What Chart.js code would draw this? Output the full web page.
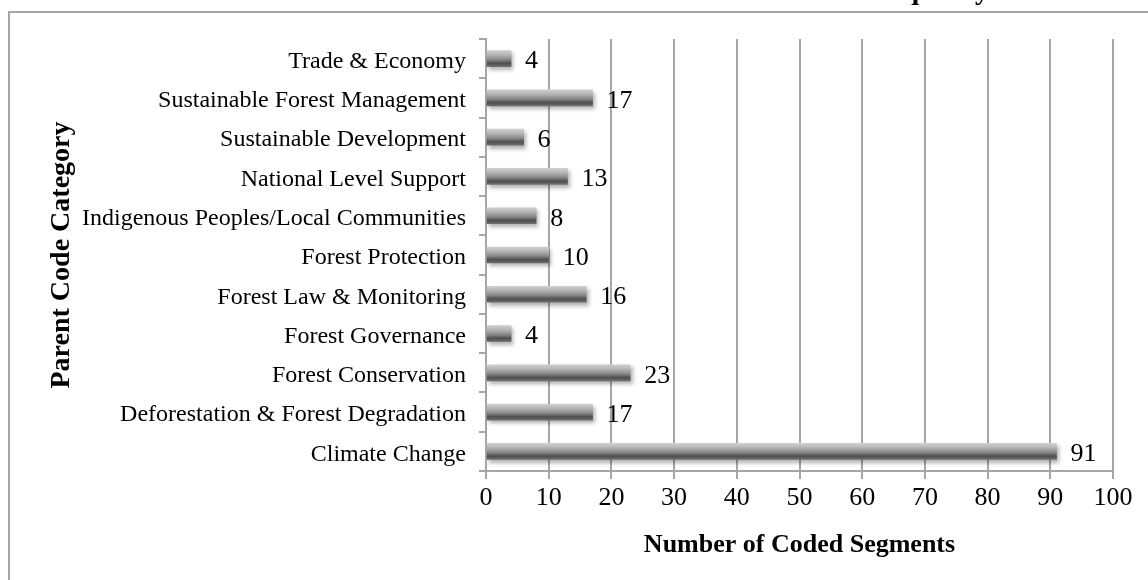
<!DOCTYPE html>
<html>
<head>
<meta charset="utf-8">
<script src="https://cdn.jsdelivr.net/npm/chart.js@4/dist/chart.umd.min.js"></script>
<style>
  html, body { margin: 0; padding: 0; background: #ffffff; }
  #wrap { width: 1148px; height: 580px; position: relative; }
</style>
</head>
<body>
<div id="wrap"><canvas id="c" width="1148" height="580"></canvas></div>
<script>
// Parent code categories, listed top to bottom
const categories = [
  'Trade & Economy',
  'Sustainable Forest Management',
  'Sustainable Development',
  'National Level Support',
  'Indigenous Peoples/Local Communities',
  'Forest Protection',
  'Forest Law & Monitoring',
  'Forest Governance',
  'Forest Conservation',
  'Deforestation & Forest Degradation',
  'Climate Change'
];
// Number of coded segments per category
const segmentCounts = [4, 17, 6, 13, 8, 10, 16, 4, 23, 17, 91];
// Value axis ticks
const xTicks = [0, 10, 20, 30, 40, 50, 60, 70, 80, 90, 100];

const SERIF = '"Liberation Serif", "Times New Roman", serif';
const GRID = '#a6a6a6';
const BAR_H = 16;
const PAD_LEFT = 41;

// Frame around the chart plus the clipped heading above it
const framePlugin = {
  id: 'frame',
  beforeDraw(chart) {
    const ctx = chart.ctx;
    ctx.save();
    ctx.fillStyle = '#ffffff';
    ctx.fillRect(0, 0, chart.width, chart.height);
    ctx.strokeStyle = GRID;
    ctx.lineWidth = 2;
    ctx.strokeRect(9, 12, 1400, 800);
    ctx.font = 'bold 28px ' + SERIF;
    ctx.fillStyle = '#000000';
    ctx.textBaseline = 'alphabetic';
    ctx.textAlign = 'left';
    ctx.fillText('Frequency', 862, -1);
    ctx.restore();
  }
};

// Shaded, shadowed bars
const shadowPlugin = {
  id: 'barShadow',
  beforeDatasetsDraw(chart) {
    const ctx = chart.ctx;
    ctx.save();
    ctx.shadowColor = 'rgba(0,0,0,0.3)';
    ctx.shadowBlur = 4;
    ctx.shadowOffsetX = 2;
    ctx.shadowOffsetY = 3;
  },
  afterDatasetsDraw(chart) {
    chart.ctx.restore();
  }
};

// Value labels at the end of each bar
const valueLabels = {
  id: 'valueLabels',
  afterDatasetsDraw(chart) {
    const ctx = chart.ctx;
    const meta = chart.getDatasetMeta(0);
    ctx.save();
    ctx.font = '26px ' + SERIF;
    ctx.fillStyle = '#000000';
    ctx.textAlign = 'left';
    ctx.textBaseline = 'middle';
    meta.data.forEach((bar, i) => {
      ctx.fillText(String(segmentCounts[i]), bar.x + 14, bar.y + 3);
    });
    ctx.restore();
  }
};

function barGradient(context) {
  const chart = context.chart;
  const yScale = chart.scales && chart.scales.y;
  if (!chart.chartArea || !yScale || context.dataIndex === undefined) return '#808080';
  const cy = yScale.getPixelForValue(context.dataIndex);
  if (!isFinite(cy)) return '#808080';
  const top = cy - BAR_H / 2;
  const g = chart.ctx.createLinearGradient(0, top, 0, top + BAR_H);
  g.addColorStop(0, '#cfcfcf');
  g.addColorStop(0.3, '#b0b0b0');
  g.addColorStop(0.55, '#8a8a8a');
  g.addColorStop(0.8, '#4e4e4e');
  g.addColorStop(1, '#6e6e6e');
  return g;
}

new Chart(document.getElementById('c'), {
  type: 'bar',
  data: {
    labels: categories,
    datasets: [{
      data: segmentCounts,
      backgroundColor: barGradient,
      borderWidth: 0,
      barThickness: BAR_H
    }]
  },
  plugins: [framePlugin, shadowPlugin, valueLabels],
  options: {
    indexAxis: 'y',
    responsive: false,
    animation: false,
    layout: { padding: { left: PAD_LEFT, right: 35, top: 39, bottom: 15 } },
    plugins: { legend: { display: false }, tooltip: { enabled: false } },
    scales: {
      x: {
        min: 0,
        max: 100,
        afterBuildTicks(scale) { scale.ticks = xTicks.map(v => ({ value: v })); },
        afterFit(scale) { scale.height = 94; },
        border: { color: GRID, width: 2 },
        grid: { color: GRID, lineWidth: 2, tickLength: 8, drawTicks: true },
        ticks: { color: '#000000', padding: 4, font: { family: SERIF, size: 26 } },
        title: {
          display: true,
          text: 'Number of Coded Segments',
          color: '#000000',
          padding: { top: 4, bottom: 4 },
          font: { family: SERIF, size: 26, weight: 'bold' }
        }
      },
      y: {
        afterFit(scale) { scale.width = 486 - PAD_LEFT; },
        border: { color: GRID, width: 2 },
        grid: { drawOnChartArea: false, offset: true, color: GRID, lineWidth: 2, tickLength: 7 },
        ticks: { color: '#000000', padding: 13, labelOffset: 3, font: { family: SERIF, size: 24 } },
        title: {
          display: true,
          text: 'Parent Code Category',
          color: '#000000',
          padding: { top: 4, bottom: 4 },
          font: { family: SERIF, size: 28, weight: 'bold' }
        }
      }
    }
  }
});
</script>
</body>
</html>
